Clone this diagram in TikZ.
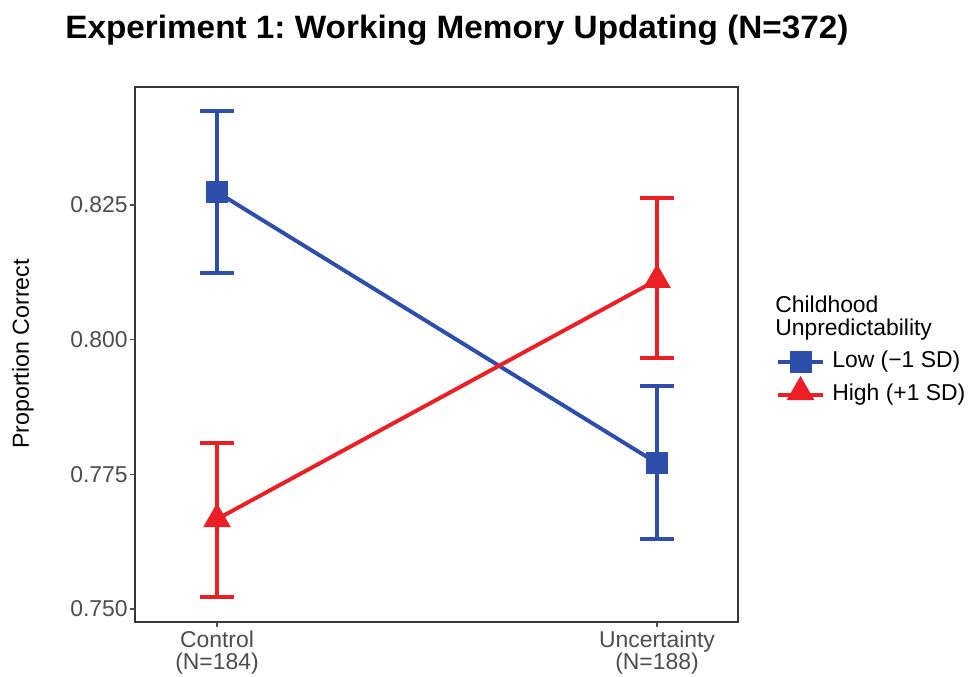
\documentclass[tikz,border=0pt]{standalone}
\usepackage{fontspec}
\setmainfont{Liberation Sans}
\usetikzlibrary{shapes.geometric}
\frenchspacing

\definecolor{lowblue}{RGB}{45,78,170}
\definecolor{highred}{RGB}{236,32,36}
\definecolor{axisgray}{RGB}{77,77,77}
\definecolor{framegray}{RGB}{60,55,55}

\tikzset{
  lowmark/.style={rectangle, fill=lowblue, minimum size=0.55cm, inner sep=0},
  highmark/.style={regular polygon, regular polygon sides=3, fill=highred, minimum size=0.8cm, inner sep=0},
  errbar/.style={line width=2.8pt},
  meanline/.style={line width=2.8pt},
  ticklab/.style={text=axisgray, font=\fontsize{16.3}{15.5}\selectfont},
  legtext/.style={font=\fontsize{16.3}{16}\selectfont},
}

\begin{document}
\begin{tikzpicture}[x=0.025cm, y=-0.025cm, line cap=butt]
    % units are pixels of the original plot, y grows downward
    \def\xl{135}
    \def\xr{738}
    \def\yt{87}
    \def\yb{622}
    \def\xc{217}
    \def\xu{657}
    \def\hw{17}
    \def\py#1{(205+(0.825-#1)*5388)}

    \useasboundingbox (0,0) rectangle (973,677);
    \fill[white] (0,0) rectangle (973,677);

    % means and error bar ends
    \foreach \n/\x/\m/\t/\b in {lowC/\xc/0.8274/0.8425/0.8124, lowU/\xu/0.7771/0.7914/0.7630,
                                highC/\xc/0.7667/0.7808/0.7522, highU/\xu/0.8111/0.8263/0.7966} {
        \coordinate (\n) at (\x, {\py{\m}});
        \coordinate (\n t) at (\x, {\py{\t}});
        \coordinate (\n b) at (\x, {\py{\b}});
    }

    \foreach \n/\c in {lowC/lowblue, lowU/lowblue, highC/highred, highU/highred} {
        \draw[errbar, \c] (\n t) -- (\n b);
        \draw[errbar, \c] (\n t) ++(-\hw,0) -- ++(2*\hw,0);
        \draw[errbar, \c] (\n b) ++(-\hw,0) -- ++(2*\hw,0);
    }

    \draw[meanline, lowblue] (lowC) -- (lowU);
    \draw[meanline, highred] (highC) -- (highU);

    \node[lowmark] (lowCm) at (lowC) {};
    \node[lowmark] (lowUm) at (lowU) {};
    \node[highmark] (highCm) at (highC) {};
    \node[highmark] (highUm) at (highU) {};

    % panel and axes
    \draw[line width=0.85pt, framegray] (\xl,\yt) rectangle (\xr,\yb);
    \foreach \v in {0.750, 0.775, 0.800, 0.825} {
        \draw[line width=0.85pt, axisgray] (\xl-5, {\py{\v}}) -- (\xl, {\py{\v}});
        \node[ticklab, anchor=east, inner sep=0] at (\xl-7, {\py{\v}}) {\v};
    }
    \draw[line width=0.85pt, axisgray] (\xc,\yb) -- (\xc,\yb+5);
    \draw[line width=0.85pt, axisgray] (\xu,\yb) -- (\xu,\yb+5);
    \node[ticklab, align=center, anchor=north, inner sep=0] (ctrl) at (\xc,631) {Control\\(N=184)};
    \node[ticklab, align=center, anchor=north, inner sep=0] (unc) at (\xu,631) {Uncertainty\\(N=188)};

    \node[rotate=90, font=\fontsize{16.5}{17}\selectfont] (ylab) at (23,354) {Proportion Correct};

    \node[anchor=base west, inner sep=0, font=\bfseries\fontsize{23}{24}\selectfont] (title) at (65,38)
        {\scalebox{1.03}[1]{Experiment 1: Working Memory Updating (N=372)}};

    % legend
    \node[legtext, anchor=north west, align=left, inner sep=0] (legtitle) at (775,296) {Childhood\\Unpredictability};
    \coordinate (lowKl) at (778,362);
    \coordinate (lowKr) at (823,362);
    \coordinate (highKl) at (778,395);
    \coordinate (highKr) at (823,395);
    \draw[meanline, lowblue] (lowKl) -- (lowKr);
    \draw[meanline, highred] (highKl) -- (highKr);
    \node[lowmark] (lowKey) at (800.5,362) {};
    \node[highmark] (highKey) at (800.5,392) {};
    \node[legtext, anchor=west, inner sep=0] (lowtxt) at (832,362) {Low (−1 SD)};
    \node[legtext, anchor=west, inner sep=0] (hightxt) at (832,395) {High (+1 SD)};
\end{tikzpicture}
\end{document}
